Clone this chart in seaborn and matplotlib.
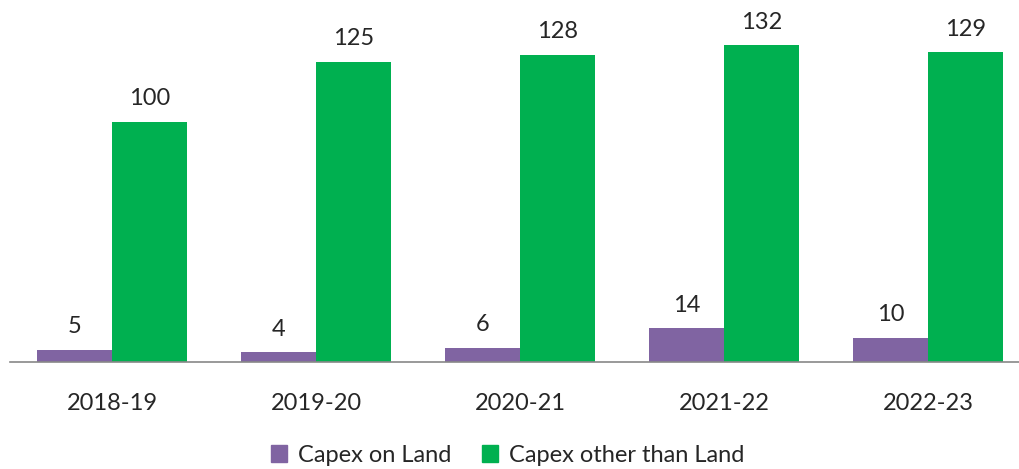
import pandas as pd
import matplotlib
import matplotlib.pyplot as plt
import seaborn as sns

matplotlib.use('Agg')

years = ['2018-19', '2019-20', '2020-21', '2021-22', '2022-23']
capex_land = [5, 4, 6, 14, 10]
capex_other = [100, 125, 128, 132, 129]
series = ['Capex on Land', 'Capex other than Land']
colors = ['#8064A2', '#00B050']

df = pd.DataFrame({
    'year': years * 2,
    'value': capex_land + capex_other,
    'series': [series[0]] * len(years) + [series[1]] * len(years),
})

sns.set_style('white')
plt.rcParams['font.family'] = ['Lato', 'DejaVu Sans']

fig = plt.figure(figsize=(10.19, 4.69), dpi=100)
ax = fig.add_axes([10 / 1019, 107 / 469, 1009 / 1019, 362 / 469])

sns.barplot(data=df, x='year', y='value', hue='series', palette=colors,
            width=0.735, gap=0, saturation=1, linewidth=0, ax=ax, legend=False)

for c in ax.containers:
    ax.bar_label(c, padding=9, fontsize=17)

ax.set_ylim(0, 150.8)
ax.set_xlim(-0.5, 4.446)
ax.set_xlabel('')
ax.set_ylabel('')
ax.set_yticks([])
for s in ['top', 'right', 'left']:
    ax.spines[s].set_visible(False)
ax.spines['bottom'].set_color('#888888')
ax.spines['bottom'].set_linewidth(1.2)
ax.tick_params(axis='x', length=0, pad=22, labelsize=17)

handles = [plt.Rectangle((0, 0), 1, 1, color=col) for col in colors]
fig.legend(handles, series, loc='center', bbox_to_anchor=(0.498, 14 / 469), ncol=2,
           frameon=False, fontsize=17, handlelength=0.7, handleheight=0.7,
           handletextpad=0.45, columnspacing=1.3)

fig.savefig('out.png', dpi=100)
